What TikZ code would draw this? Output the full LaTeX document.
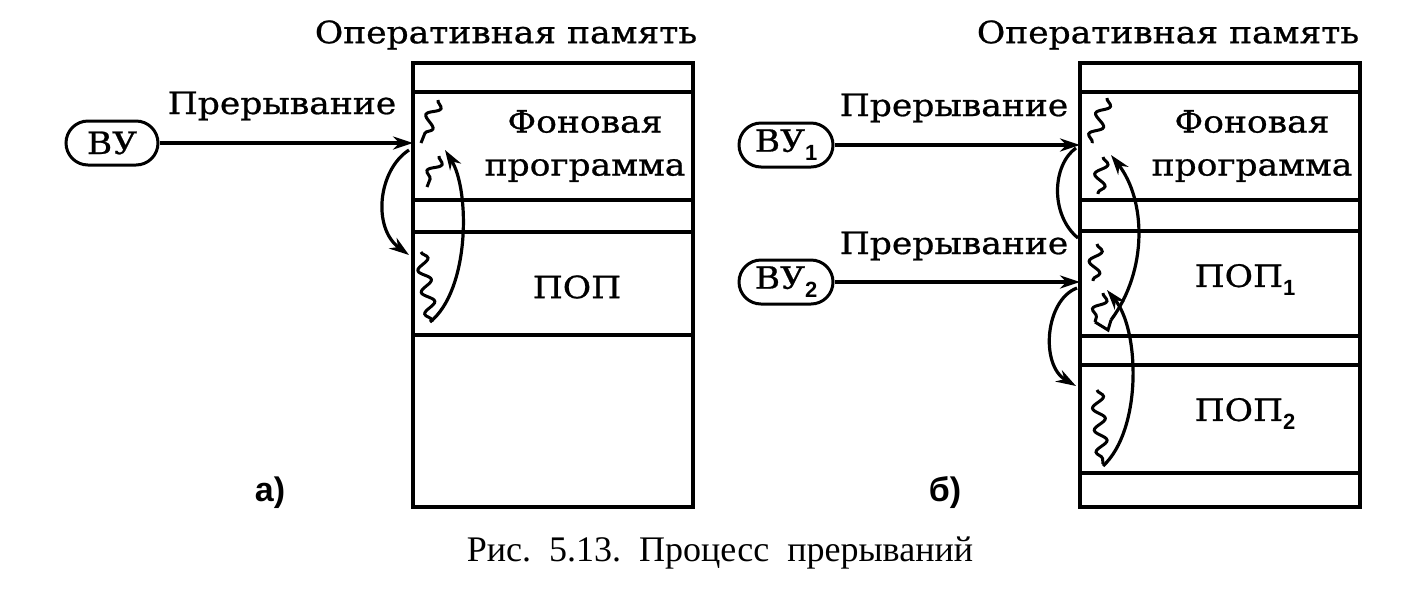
\documentclass[tikz,border=0pt]{standalone}
\usepackage{fontspec}
\newfontfamily\dfont{DejaVu Serif}[FakeStretch=1.12,FakeBold=0.8]
\newfontfamily\cfont{Liberation Serif}
\newfontfamily\sfont{Liberation Sans}
\usetikzlibrary{arrows.meta,decorations.pathmorphing}
\newcommand{\subn}[1]{\raisebox{-4.5pt}{\sfont\bfseries\fontsize{11}{11}\selectfont #1}}
\begin{document}
\begin{tikzpicture}[x=0.5pt,y=-0.5pt,
  mem/.style={line width=1.9pt},
  lbl/.style={font=\dfont\fontsize{15.4}{21.5}\selectfont, inner sep=0pt},
  captext/.style={font=\cfont\fontsize{18}{20}\selectfont, inner sep=0pt},
  sublbl/.style={font=\sfont\bfseries\fontsize{17}{18}\selectfont, inner sep=0pt},
  dev/.style={draw, line width=1.5pt, rounded corners=11pt, minimum height=22pt, inner sep=2pt, font=\dfont\fontsize{15.4}{16}\selectfont},
  arr/.style={line width=1.7pt, -{Stealth[length=10pt,width=6.5pt]}},
  arcline/.style={line width=1.6pt},
  arcarr/.style={line width=1.6pt, -{Stealth[length=10pt,width=6.5pt]}},
  wig/.style={line width=1.5pt, decorate, decoration={snake, amplitude=3pt, segment length=11pt}}
]
\useasboundingbox (0,0) rectangle (1418,596);

% ---------- memory a)
\draw[mem] (413,63) rectangle (693,507);
\foreach \yy in {92,200,232,335} \draw[mem] (413,\yy) -- (693,\yy);
% ---------- memory b)
\draw[mem] (1080,63) rectangle (1360,507);
\foreach \yy in {92,200,231,336,365,473} \draw[mem] (1080,\yy) -- (1360,\yy);

% ---------- titles and labels
\node[lbl] (ta) at (506,35) {Оперативная память};
\node[lbl] (tb) at (1168,35) {Оперативная память};
\node[lbl] (pa) at (282,106) {Прерывание};
\node[lbl] (pb1) at (954,108) {Прерывание};
\node[lbl] (pb2) at (954,246) {Прерывание};
\node[lbl, align=center] (fa) at (585,146) {Фоновая\\программа};
\node[lbl, align=center] (fb) at (1252,146) {Фоновая\\программа};
\node[lbl] (popa) at (577,287) {ПОП};
\node[lbl] (popb1) at (1245,280) {ПОП\subn{1}};
\node[lbl] (popb2) at (1245,414) {ПОП\subn{2}};
\node[sublbl] (la) at (270,493) {а)};
\node[sublbl] (lb) at (945,493) {б)};
\node[captext] (cp) at (720,553) {Рис.\ \ 5.13.\ \ Процесс\ \ прерываний};

% ---------- devices
\node[dev, minimum width=46pt] (vu) at (112,143) {ВУ};
\node[dev, minimum width=47pt] (vu1) at (786,145) {ВУ\subn{1}};
\node[dev, minimum width=47pt] (vu2) at (786,282) {ВУ\subn{2}};

% ---------- connector end points a)
\coordinate (ain) at (413,143);
\coordinate (a1s) at (409,150);
\coordinate (a1e) at (409,255);
\coordinate (a2s) at (430,322);
\coordinate (a2e) at (445,150);
% squiggles a)
\coordinate (sa1t) at (438,100); \coordinate (sa1b) at (421,143);
\coordinate (sa2t) at (439,156); \coordinate (sa2b) at (427,187);
\coordinate (sa3t) at (421,252); \coordinate (sa3b) at (432,322);

\draw[arr] (vu) -- (ain);
\draw[arcarr] (a1s) .. controls (378,170) and (372,228) .. (a1e);
\draw[arcarr] (a2s) .. controls (470,290) and (470,190) .. (a2e);
\draw[wig] (sa1t) -- (sa1b);
\draw[wig] (sa2t) -- (sa2b);
\draw[wig] (sa3t) -- (sa3b);

% ---------- connector end points b)
\coordinate (bin1) at (1080,145);
\coordinate (bin2) at (1080,282);
\coordinate (b1s) at (1076,148);
\coordinate (b1e) at (1078,238);
\coordinate (b2s) at (1111,320);
\coordinate (b2e) at (1111,155);
\coordinate (b3s) at (1077,288);
\coordinate (b3e) at (1076,386);
\coordinate (b4s) at (1103,466);
\coordinate (b4e) at (1107,290);
% squiggles b)
\coordinate (sb1t) at (1107,98);  \coordinate (sb1b) at (1092,143);
\coordinate (sb2t) at (1103,157); \coordinate (sb2b) at (1098,194);
\coordinate (sb3t) at (1097,244); \coordinate (sb3b) at (1093,281);
\coordinate (sb4t) at (1103,293); \coordinate (sb4b) at (1095,322);
\coordinate (sb5t) at (1097,390); \coordinate (sb5b) at (1103,464);

\draw[arr] (vu1) -- (bin1);
\draw[arr] (vu2) -- (bin2);
\draw[arcline] (b1s) .. controls (1052,165) and (1050,215) .. (b1e);
\draw[arcarr] (b2s) .. controls (1148,270) and (1146,200) .. (b2e);
\draw[arcarr] (b3s) .. controls (1045,300) and (1040,365) .. (b3e);
\draw[arcarr] (b4s) .. controls (1142,430) and (1140,330) .. (b4e);
\draw[wig] (sb1t) -- (sb1b);
\draw[wig] (sb2t) -- (sb2b);
\draw[wig] (sb3t) -- (sb3b);
\draw[wig] (sb4t) -- (sb4b);
\draw[line width=1.5pt] (sb4b) -- (1108,330) -- (1111,320);
\draw[wig] (sb5t) -- (sb5b);
\end{tikzpicture}
\end{document}
